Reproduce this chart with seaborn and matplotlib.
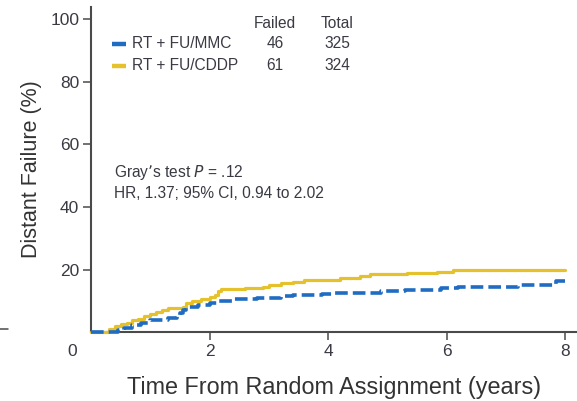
import matplotlib
matplotlib.use("Agg")
import matplotlib.pyplot as plt
from matplotlib.lines import Line2D
import seaborn as sns
import pandas as pd

# Cumulative incidence of distant failure (%), step functions
mmc_time = [0, 0.45, 0.55, 0.7, 0.85, 1.0, 1.3, 1.45, 1.5, 1.55, 1.6, 1.8, 2.0, 2.15,
            2.4, 2.8, 3.2, 3.4, 3.9, 4.1, 4.9, 5.3, 5.9, 6.2, 7.2, 7.85, 8.0]
mmc_val = [0, 0.5, 1.3, 2.2, 3.0, 3.8, 4.5, 5.0, 6.2, 7.2, 8.0, 8.6, 9.2, 10.0,
           10.5, 11.0, 11.4, 11.8, 12.2, 12.6, 13.0, 13.4, 14.0, 14.5, 15.0, 16.3, 16.3]

cddp_time = [0, 0.3, 0.4, 0.5, 0.6, 0.7, 0.8, 0.9, 1.0, 1.1, 1.2, 1.3, 1.55, 1.6, 1.7,
             1.85, 2.0, 2.1, 2.15, 2.2, 2.6, 2.9, 3.0, 3.2, 3.4, 3.6, 4.2, 4.54, 4.71,
             5.33, 5.83, 6.11, 8.0]
cddp_val = [0, 1.0, 2.0, 2.5, 3.0, 3.7, 4.3, 5.0, 5.8, 6.5, 7.0, 7.6, 8.0, 9.3, 9.8,
            10.5, 11.3, 11.8, 13.0, 13.7, 14.0, 14.5, 15.0, 15.6, 16.0, 16.6, 17.3, 17.9,
            18.5, 18.9, 19.2, 19.8, 19.8]

groups = ["RT + FU/MMC", "RT + FU/CDDP"]
failed = ["46", "61"]
total = ["325", "324"]
x_ticks = [2, 4, 6, 8]
y_ticks = [20, 40, 60, 80, 100]
annot_lines = ["Gray\u2019s test $\\it{P}$ = .12", "HR, 1.37; 95% CI, 0.94 to 2.02"]

BLUE = "#1f6cc2"
YELLOW = "#e5c22c"
TXT = "#3a3a44"
AX = "#4a4a4a"

sns.set_theme(style="white")
plt.rcParams['font.family'] = ['Liberation Sans', 'DejaVu Sans']

fig = plt.figure(figsize=(5.77, 4.01), dpi=100)
ax = fig.add_axes([91/577, 69/401, 486/577, 325/401])

df_c = pd.DataFrame({"t": cddp_time, "v": cddp_val})
df_m = pd.DataFrame({"t": mmc_time, "v": mmc_val})
sns.lineplot(data=df_c, x="t", y="v", ax=ax, color=YELLOW, lw=2.3,
             drawstyle="steps-post", estimator=None, sort=False, clip_on=False, zorder=3)
sns.lineplot(data=df_m, x="t", y="v", ax=ax, color=BLUE, lw=2.6,
             linestyle=(0, (3.5, 1.4)), drawstyle="steps-post", estimator=None,
             sort=False, clip_on=False, zorder=4)

ax.set_xlim(0, 8.2)
ax.set_ylim(0, 104)
ax.set_xticks(x_ticks)
ax.set_yticks(y_ticks)
ax.set_xticklabels([str(v) for v in x_ticks], fontsize=12.5, color=TXT)
ax.set_yticklabels([str(v) for v in y_ticks], fontsize=12.5, color=TXT)
ax.tick_params(axis="both", which="major", direction="out", length=5.5, width=1.1,
               color=AX, pad=3, bottom=True, left=True)
for s in ["top", "right"]:
    ax.spines[s].set_visible(False)
for s in ["left", "bottom"]:
    ax.spines[s].set_color(AX)
    ax.spines[s].set_linewidth(1.5)

ax.set_xlabel("Time From Random Assignment (years)", fontsize=16.8,
              color="#333333", labelpad=12.5)
ax.set_ylabel("Distant Failure (%)", fontsize=15.5, color="#333333", labelpad=6)
ax.set_facecolor("white")

# legend table
def fx(px):
    return px / 577
def fy(py):
    return 1 - py / 401

fs = 11.2
fig.text(fx(275), fy(23), "Failed", ha="center", va="center", fontsize=fs, color=TXT)
fig.text(fx(337), fy(23), "Total", ha="center", va="center", fontsize=fs, color=TXT)
colors = [BLUE, YELLOW]
rows_y = [44, 66]
for g, f, t, c, yy in zip(groups, failed, total, colors, rows_y):
    fig.add_artist(Line2D([fx(112), fx(126)], [fy(yy), fy(yy)], color=c, lw=3.2,
                          solid_capstyle="butt"))
    fig.text(fx(132), fy(yy), g, ha="left", va="center", fontsize=fs, color=TXT)
    fig.text(fx(275), fy(yy), f, ha="center", va="center", fontsize=fs, color=TXT)
    fig.text(fx(337), fy(yy), t, ha="center", va="center", fontsize=fs, color=TXT)

fig.text(fx(114), fy(173), annot_lines[0], ha="left", va="center", fontsize=fs, color=TXT)
fig.text(fx(114), fy(193), annot_lines[1], ha="left", va="center", fontsize=fs, color=TXT)

# corner zero label and stray tick
fig.text(fx(72), fy(351), "0", ha="center", va="center", fontsize=12.5, color=TXT)
fig.add_artist(Line2D([0, fx(8)], [fy(328.5), fy(328.5)], color=AX, lw=1.1))

fig.savefig("out.png", dpi=100, facecolor="white")
